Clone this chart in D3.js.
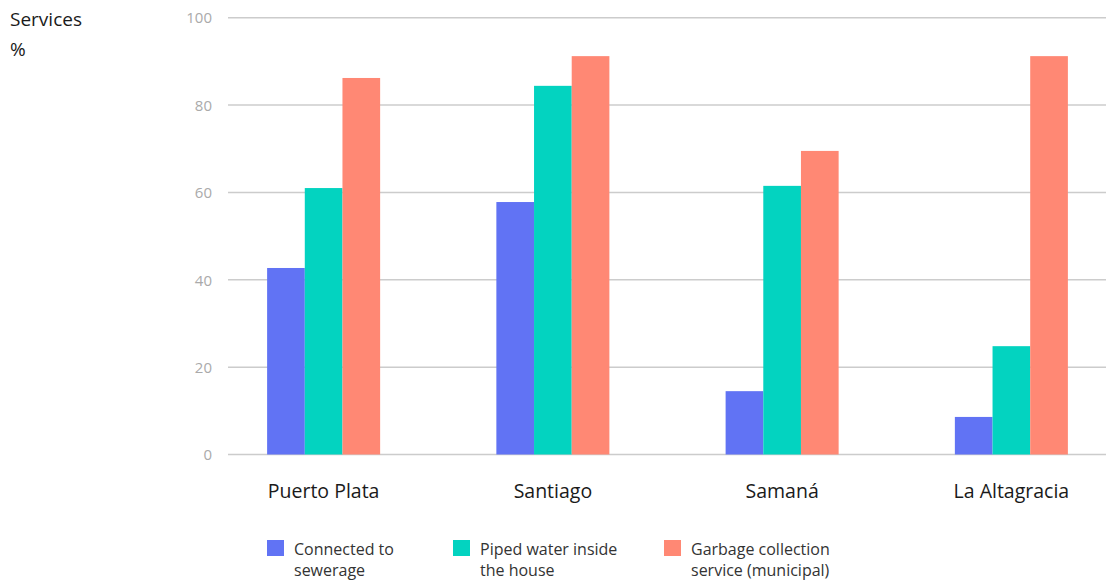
<!DOCTYPE html>
<html>
<head>
<meta charset="utf-8">
<script src="https://cdn.jsdelivr.net/npm/d3@7"></script>
<style>
  html, body { margin: 0; padding: 0; background: #fff; }
  svg { display: block; font-family: "Open Sans", sans-serif; }
</style>
</head>
<body>
<svg id="chart" width="1106" height="583"></svg>
<script>
const categories = ["Puerto Plata", "Santiago", "Samaná", "La Altagracia"];
const seriesNames = ["Connected to sewerage", "Piped water inside the house", "Garbage collection service (municipal)"];
const legendLines = [["Connected to", "sewerage"], ["Piped water inside", "the house"], ["Garbage collection", "service (municipal)"]];
const sewerage = [42.7, 57.8, 14.5, 8.6];
const pipedWater = [61.0, 84.4, 61.5, 24.8];
const garbage = [86.2, 91.2, 69.5, 91.2];
const yTicks = [0, 20, 40, 60, 80, 100];
const colors = ["#6173f4", "#03d3c0", "#ff8874"];

const series = [sewerage, pipedWater, garbage];
const svg = d3.select("#chart");

const y = d3.scaleLinear().domain([0, 100]).range([454.5, 17.7]);
const x0 = d3.scaleBand().domain(categories).range([209, 1126]).paddingInner(0.507).paddingOuter(0.2535);
const x1 = d3.scaleBand().domain(d3.range(series.length)).range([0, x0.bandwidth()]);

// gridlines
const yAxis = d3.axisLeft(y).tickValues(yTicks).tickSize(0).tickPadding(0);
const gGrid = svg.append("g");
gGrid.selectAll("line").data(yTicks).join("line")
  .attr("x1", 228).attr("x2", 1106)
  .attr("y1", d => y(d)).attr("y2", d => y(d))
  .attr("stroke", "#cccccc").attr("stroke-width", 1.5);

const gAxis = svg.append("g").attr("transform", "translate(212,0)").call(yAxis);
gAxis.select(".domain").remove();
gAxis.selectAll("text")
  .attr("fill", "#aaaaaa").attr("font-size", 15).attr("dy", "0.35em")
  .style("font-family", "'Open Sans', sans-serif");

// bars
const groups = svg.append("g").selectAll("g").data(categories).join("g")
  .attr("transform", d => `translate(${x0(d)},0)`);
groups.selectAll("rect")
  .data((c, i) => series.map((s, k) => ({k, v: s[i]})))
  .join("rect")
  .attr("x", d => x1(d.k))
  .attr("width", x1.bandwidth())
  .attr("y", d => y(d.v))
  .attr("height", d => y(0) - y(d.v))
  .attr("fill", d => colors[d.k]);

// category labels
const xAxis = d3.axisBottom(x0).tickSize(0).tickPadding(0);
const gX = svg.append("g").attr("transform", "translate(0,498)").call(xAxis);
gX.select(".domain").remove();
gX.selectAll("text").attr("dy", 0).attr("fill", "#1a1a1a").attr("font-size", 19.5)
  .style("font-family", "'Open Sans', sans-serif");

// title
svg.append("text").attr("x", 10).attr("y", 26).attr("font-size", 19).attr("fill", "#1a1a1a").text("Services");
svg.append("text").attr("x", 10).attr("y", 56).attr("font-size", 19).attr("fill", "#1a1a1a").text("%");

// legend
const legendX = [267, 453, 664];
const lg = svg.append("g").selectAll("g").data(seriesNames).join("g")
  .attr("transform", (d, i) => `translate(${legendX[i]},540)`);
lg.append("rect").attr("width", 17).attr("height", 16).attr("fill", (d, i) => colors[i]);
lg.each(function(d, i) {
  const t = d3.select(this).append("text").attr("x", 27).attr("font-size", 16).attr("fill", "#333333");
  legendLines[i].forEach((line, j) => {
    t.append("tspan").attr("x", 27).attr("y", 15 + j * 21).text(line);
  });
});
</script>
</body>
</html>
